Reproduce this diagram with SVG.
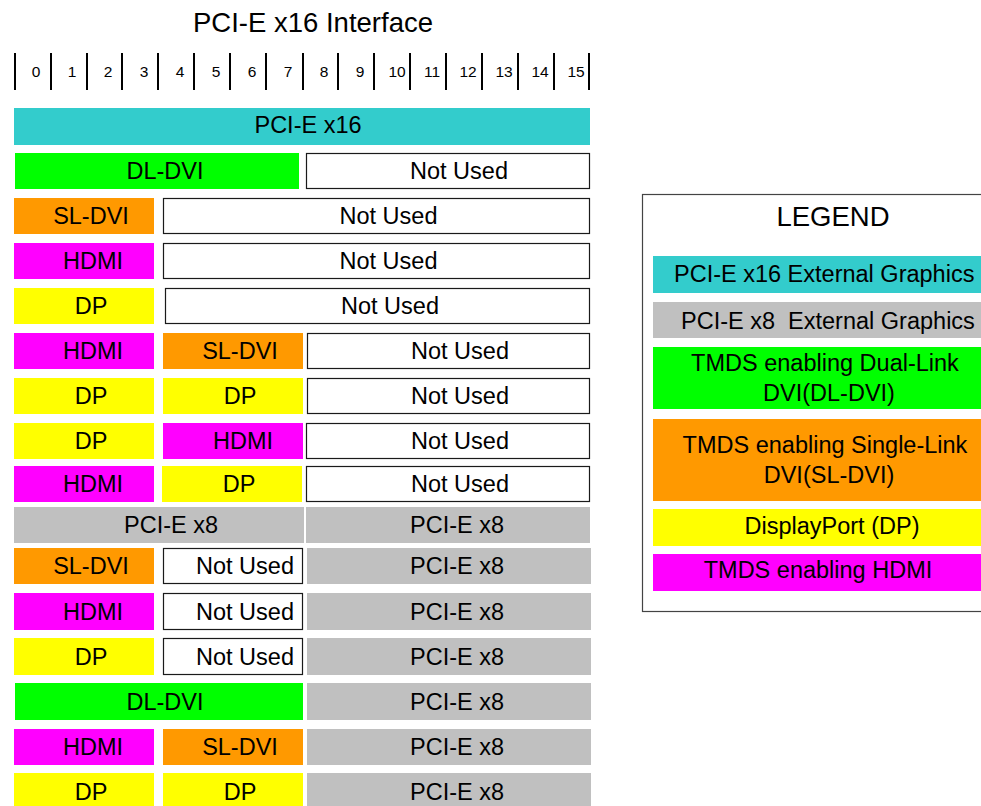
<svg xmlns="http://www.w3.org/2000/svg" width="981" height="806" viewBox="0 0 981 806">
<style>
text{font-family:"Liberation Sans",Arial,sans-serif;fill:#000}
.t{font-size:23.5px;text-anchor:middle}
.ts{font-size:23.5px}
.d{font-size:15.5px;text-anchor:middle}
.h{font-size:27.5px;text-anchor:middle}
.cy{fill:#33CCCC}.gr{fill:#00FF00}.or{fill:#FF9900}.mg{fill:#FF00FF}.ye{fill:#FFFF00}.gy{fill:#C0C0C0}
.nu{fill:#fff;stroke:#1a1a1a;stroke-width:1.2}
.bar{stroke:#000;stroke-width:2}
</style>
<rect width="981" height="806" fill="#fff"/>
<g id="title"><text class="h" x="313" y="32">PCI-E x16 Interface</text></g>
<g id="ruler">
<line class="bar" x1="15" y1="53" x2="15" y2="90"/>
<line class="bar" x1="51" y1="53" x2="51" y2="90"/>
<line class="bar" x1="87" y1="53" x2="87" y2="90"/>
<line class="bar" x1="122" y1="53" x2="122" y2="90"/>
<line class="bar" x1="158" y1="53" x2="158" y2="90"/>
<line class="bar" x1="194" y1="53" x2="194" y2="90"/>
<line class="bar" x1="230" y1="53" x2="230" y2="90"/>
<line class="bar" x1="266" y1="53" x2="266" y2="90"/>
<line class="bar" x1="303" y1="53" x2="303" y2="90"/>
<line class="bar" x1="338" y1="53" x2="338" y2="90"/>
<line class="bar" x1="374" y1="53" x2="374" y2="90"/>
<line class="bar" x1="410" y1="53" x2="410" y2="90"/>
<line class="bar" x1="446" y1="53" x2="446" y2="90"/>
<line class="bar" x1="482" y1="53" x2="482" y2="90"/>
<line class="bar" x1="518" y1="53" x2="518" y2="90"/>
<line class="bar" x1="554" y1="53" x2="554" y2="90"/>
<line class="bar" x1="589" y1="53" x2="589" y2="90"/>
<text class="d" x="36" y="77">0</text>
<text class="d" x="72" y="77">1</text>
<text class="d" x="108" y="77">2</text>
<text class="d" x="144" y="77">3</text>
<text class="d" x="180" y="77">4</text>
<text class="d" x="216" y="77">5</text>
<text class="d" x="252" y="77">6</text>
<text class="d" x="288" y="77">7</text>
<text class="d" x="324" y="77">8</text>
<text class="d" x="360" y="77">9</text>
<text class="d" x="397" y="77">10</text>
<text class="d" x="432" y="77">11</text>
<text class="d" x="468" y="77">12</text>
<text class="d" x="504" y="77">13</text>
<text class="d" x="540" y="77">14</text>
<text class="d" x="576" y="77">15</text>
</g>
<g id="pcie16"><rect class="cy" x="14" y="108" width="576" height="37"/><text class="t" x="308" y="133">PCI-E x16</text></g>

<g id="row1">
<g id="r1a"><rect class="gr" x="15" y="153" width="284" height="36"/><text class="t" x="165" y="179.3">DL-DVI</text></g>
<g id="r1b"><rect class="nu" x="306.5" y="153.5" width="283" height="35"/><text class="t" x="459" y="179.3">Not Used</text></g>
</g>
<g id="row2">
<g id="r2a"><rect class="or" x="14" y="198" width="140" height="36"/><text class="t" x="91" y="224.3">SL-DVI</text></g>
<g id="r2b"><rect class="nu" x="163.5" y="198.5" width="426" height="35"/><text class="t" x="388.5" y="224.3">Not Used</text></g>
</g>
<g id="row3">
<g id="r3a"><rect class="mg" x="14" y="243" width="140" height="36"/><text class="t" x="93" y="269.3">HDMI</text></g>
<g id="r3b"><rect class="nu" x="163.5" y="243.5" width="426" height="35"/><text class="t" x="388.5" y="269.3">Not Used</text></g>
</g>
<g id="row4">
<g id="r4a"><rect class="ye" x="14" y="288" width="140" height="36"/><text class="t" x="91" y="314.3">DP</text></g>
<g id="r4b"><rect class="nu" x="165.5" y="288.5" width="424" height="35"/><text class="t" x="390" y="314.3">Not Used</text></g>
</g>
<g id="row5">
<g id="r5a"><rect class="mg" x="14" y="333" width="140" height="36"/><text class="t" x="93" y="359.3">HDMI</text></g>
<g id="r5b"><rect class="or" x="163" y="333" width="140" height="36"/><text class="t" x="240" y="359.3">SL-DVI</text></g>
<g id="r5c"><rect class="nu" x="307.5" y="333.5" width="282" height="35"/><text class="t" x="460" y="359.3">Not Used</text></g>
</g>
<g id="row6">
<g id="r6a"><rect class="ye" x="14" y="378" width="140" height="36"/><text class="t" x="91" y="404.3">DP</text></g>
<g id="r6b"><rect class="ye" x="163" y="378" width="140" height="36"/><text class="t" x="240" y="404.3">DP</text></g>
<g id="r6c"><rect class="nu" x="307.5" y="378.5" width="282" height="35"/><text class="t" x="460" y="404.3">Not Used</text></g>
</g>
<g id="row7">
<g id="r7a"><rect class="ye" x="14" y="423" width="140" height="36"/><text class="t" x="91" y="449.3">DP</text></g>
<g id="r7b"><rect class="mg" x="163" y="423" width="140" height="36"/><text class="t" x="243" y="449.3">HDMI</text></g>
<g id="r7c"><rect class="nu" x="306.5" y="423.5" width="283" height="35"/><text class="t" x="460" y="449.3">Not Used</text></g>
</g>
<g id="row8">
<g id="r8a"><rect class="mg" x="14" y="466" width="140" height="36"/><text class="t" x="93" y="492.3">HDMI</text></g>
<g id="r8b"><rect class="ye" x="162" y="466" width="140" height="36"/><text class="t" x="239" y="492.3">DP</text></g>
<g id="r8c"><rect class="nu" x="306.5" y="466.5" width="283" height="35"/><text class="t" x="460" y="492.3">Not Used</text></g>
</g>
<g id="row9">
<g id="r9a"><rect class="gy" x="14" y="507" width="290" height="36"/><text class="t" x="171" y="533.3">PCI-E x8</text></g>
<g id="r9b"><rect class="gy" x="306" y="507" width="284" height="36"/><text class="t" x="457" y="533.3">PCI-E x8</text></g>
</g>
<g id="row10">
<g id="r10a"><rect class="or" x="14" y="548" width="140" height="36"/><text class="t" x="91" y="574.3">SL-DVI</text></g>
<g id="r10b"><rect class="nu" x="163.5" y="548.5" width="139" height="35"/><text class="t" x="245" y="574.3">Not Used</text></g>
<g id="r10c"><rect class="gy" x="307" y="548" width="284" height="36"/><text class="t" x="457" y="574.3">PCI-E x8</text></g>
</g>
<g id="row11">
<g id="r11a"><rect class="mg" x="14" y="593" width="140" height="37"/><text class="t" x="93" y="619.8">HDMI</text></g>
<g id="r11b"><rect class="nu" x="163.5" y="593.5" width="139" height="36"/><text class="t" x="245" y="619.8">Not Used</text></g>
<g id="r11c"><rect class="gy" x="307" y="593" width="284" height="37"/><text class="t" x="457" y="619.8">PCI-E x8</text></g>
</g>
<g id="row12">
<g id="r12a"><rect class="ye" x="14" y="638" width="140" height="37"/><text class="t" x="91" y="664.8">DP</text></g>
<g id="r12b"><rect class="nu" x="163.5" y="638.5" width="139" height="36"/><text class="t" x="245" y="664.8">Not Used</text></g>
<g id="r12c"><rect class="gy" x="307" y="638" width="284" height="37"/><text class="t" x="457" y="664.8">PCI-E x8</text></g>
</g>
<g id="row13">
<g id="r13a"><rect class="gr" x="15" y="683" width="288" height="37"/><text class="t" x="165" y="709.8">DL-DVI</text></g>
<g id="r13b"><rect class="gy" x="307" y="683" width="284" height="37"/><text class="t" x="457" y="709.8">PCI-E x8</text></g>
</g>
<g id="row14">
<g id="r14a"><rect class="mg" x="14" y="729" width="140" height="36"/><text class="t" x="93" y="755.3">HDMI</text></g>
<g id="r14b"><rect class="or" x="163" y="729" width="140" height="36"/><text class="t" x="240" y="755.3">SL-DVI</text></g>
<g id="r14c"><rect class="gy" x="307" y="729" width="284" height="36"/><text class="t" x="457" y="755.3">PCI-E x8</text></g>
</g>
<g id="row15">
<g id="r15a"><rect class="ye" x="14" y="773" width="140" height="37"/><text class="t" x="91" y="799.8">DP</text></g>
<g id="r15b"><rect class="ye" x="163" y="773" width="140" height="37"/><text class="t" x="240" y="799.8">DP</text></g>
<g id="r15c"><rect class="gy" x="307" y="773" width="284" height="37"/><text class="t" x="457" y="799.8">PCI-E x8</text></g>
</g>

<g id="legend">
<rect x="642.5" y="194.5" width="360" height="417" fill="#fff" stroke="#444" stroke-width="1.2"/>
<text class="h" x="833" y="225.7">LEGEND</text>
<g id="lg-x16"><rect class="cy" x="653" y="256" width="340" height="37"/><text class="ts" x="674" y="282.3">PCI-E x16 External Graphics</text></g>
<g id="lg-x8"><rect class="gy" x="653" y="302" width="340" height="36"/><text class="ts" x="681" y="329" xml:space="preserve">PCI-E x8  External Graphics</text></g>
<g id="lg-dl"><rect class="gr" x="653" y="347" width="340" height="62"/><text class="t" x="825" y="370.7">TMDS enabling Dual-Link</text><text class="t" x="829" y="400.7">DVI(DL-DVI)</text></g>
<g id="lg-sl"><rect class="or" x="653" y="419" width="340" height="82"/><text class="t" x="825" y="452.7">TMDS enabling Single-Link</text><text class="t" x="829" y="482.7">DVI(SL-DVI)</text></g>
<g id="lg-dp"><rect class="ye" x="653" y="509" width="340" height="37"/><text class="t" x="832" y="534">DisplayPort (DP)</text></g>
<g id="lg-hdmi"><rect class="mg" x="653" y="554" width="340" height="37"/><text class="t" x="818" y="578.3">TMDS enabling HDMI</text></g>
</g>
</svg>
